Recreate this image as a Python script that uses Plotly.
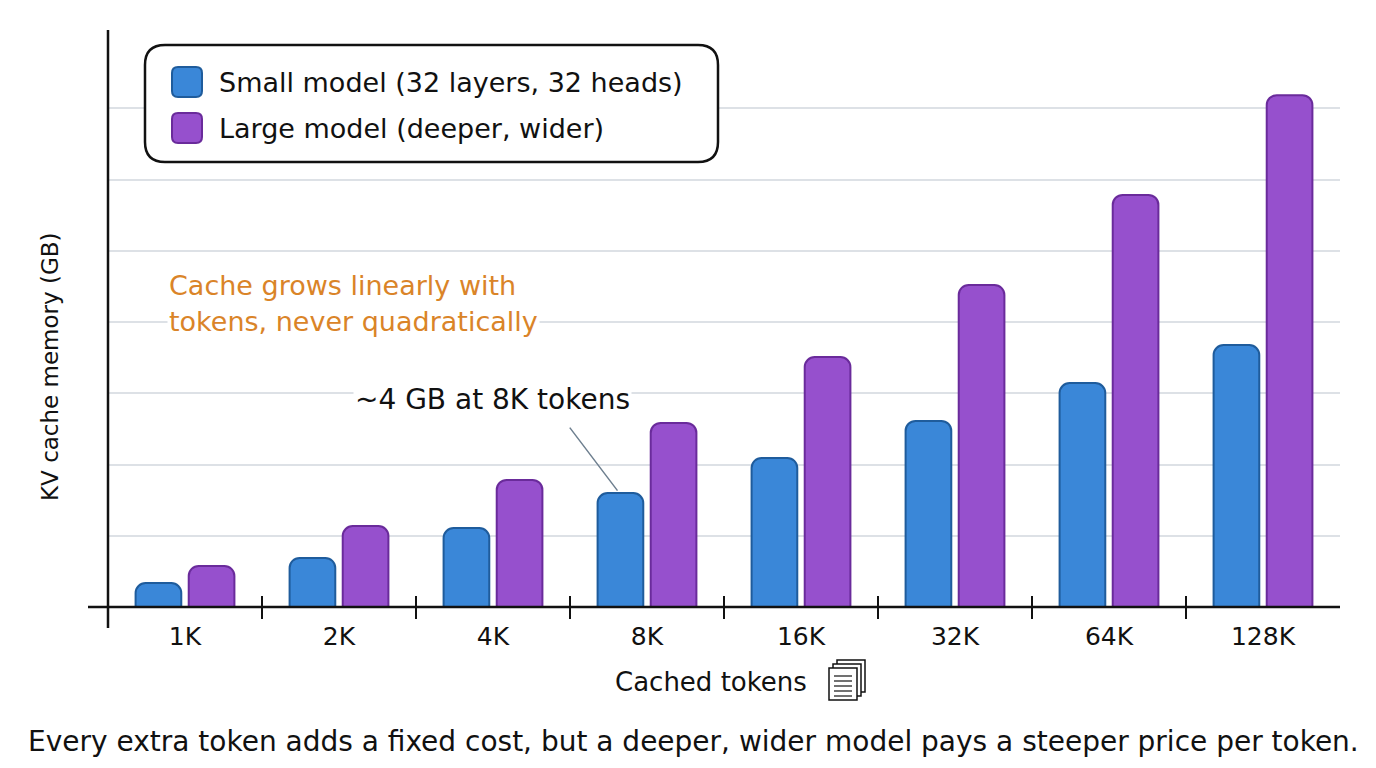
import plotly.graph_objects as go

# data (GB)
tokens = ["1K", "2K", "4K", "8K", "16K", "32K", "64K", "128K"]
small_gb = [0.84, 1.72, 2.77, 4.0, 5.23, 6.53, 7.86, 9.19]
large_gb = [1.44, 2.84, 4.46, 6.46, 8.77, 11.3, 14.46, 17.96]
grid_gb = [2.5, 5.0, 7.5, 10.0, 12.5, 15.0, 17.5]
series_names = ["Small model (32 layers, 32 heads)", "Large model (deeper, wider)"]
note_lines = ["Cache grows linearly with", "tokens, never quadratically"]

FONT = "DejaVu Sans"
INK = "#111111"
BLUE, BLUE_EDGE = "#3A87D8", "#1F5C9C"
PURPLE, PURPLE_EDGE = "#9650CD", "#6A2B9B"
ORANGE = "#DA8428"

# the page body has an 8px margin, so the figure is made 16px smaller
OFF = 8
FIG_W, FIG_H = 1376 - 2 * OFF, 768 - 2 * OFF

# plot area in page pixels
L, R, T, B = 108, 1340, 30, 607
W, H = R - L, B - T


def px(x):
    return (x - L) / W


def py(y):
    return (B - y) / H


def rounded(x0, y0, x1, y1, r):
    # rounded rectangle path, given in page pixels, returned in paper coords
    pts = [
        ("M", x0 + r, y0), ("L", x1 - r, y0), ("Q", x1, y0, x1, y0 + r),
        ("L", x1, y1 - r), ("Q", x1, y1, x1 - r, y1), ("L", x0 + r, y1),
        ("Q", x0, y1, x0, y1 - r), ("L", x0, y0 + r), ("Q", x0, y0, x0 + r, y0),
    ]
    out = []
    for p in pts:
        cmd, nums = p[0], p[1:]
        coords = []
        for i in range(0, len(nums), 2):
            coords.append(f"{px(nums[i]):.5f},{py(nums[i + 1]):.5f}")
        out.append(cmd + " ".join(coords))
    return " ".join(out) + " Z"


def text_at(x, y, text, size, color=INK, xanchor="center", **kw):
    return dict(xref="paper", yref="paper", x=px(x), y=py(y), text=text, showarrow=False,
                xanchor=xanchor, yanchor="middle", font=dict(size=size, color=color, family=FONT), **kw)


fig = go.Figure()
fig.add_trace(go.Bar(x=tokens, y=small_gb, name=series_names[0],
                     marker=dict(color=BLUE, line=dict(color=BLUE_EDGE, width=2))))
fig.add_trace(go.Bar(x=tokens, y=large_gb, name=series_names[1],
                     marker=dict(color=PURPLE, line=dict(color=PURPLE_EDGE, width=2))))

shapes = []
# axis lines (extend past the origin like the sketch)
shapes.append(dict(type="line", xref="paper", yref="paper", x0=px(108), x1=px(108),
                   y0=py(30), y1=py(628), line=dict(color=INK, width=2.5)))
shapes.append(dict(type="line", xref="paper", yref="paper", x0=px(88), x1=px(1340),
                   y0=0, y1=0, line=dict(color=INK, width=2.5)))
# category separator ticks crossing the x axis
for i in range(len(tokens) - 1):
    shapes.append(dict(type="line", xref="x", yref="paper", x0=i + 0.5, x1=i + 0.5,
                       y0=py(619), y1=py(596), line=dict(color=INK, width=2)))

# legend box
shapes.append(dict(type="path", xref="paper", yref="paper", path=rounded(145, 45, 718, 162, 20),
                   line=dict(color=INK, width=2.5), fillcolor="white", layer="above"))
legend_rows = [(BLUE, BLUE_EDGE, 82), (PURPLE, PURPLE_EDGE, 128)]
annotations = []
for (fill, edge, yc), name in zip(legend_rows, series_names):
    shapes.append(dict(type="path", xref="paper", yref="paper",
                       path=rounded(172, yc - 15, 202, yc + 15, 6),
                       line=dict(color=edge, width=2), fillcolor=fill, layer="above"))
    annotations.append(text_at(217, yc, name, 27, xanchor="left"))

# little stacked-pages icon next to the x title
for dx, dy in [(8, -8), (4, -4), (0, 0)]:
    shapes.append(dict(type="rect", xref="paper", yref="paper",
                       x0=px(829 + dx), x1=px(857 + dx), y0=py(668 + dy), y1=py(700 + dy),
                       line=dict(color=INK, width=1.5), fillcolor="white"))
for k in range(5):
    yy = 676 + k * 5
    shapes.append(dict(type="line", xref="paper", yref="paper", x0=px(834), x1=px(852),
                       y0=py(yy), y1=py(yy), line=dict(color=INK, width=1.2)))

annotations += [
    text_at(50, 367, "KV cache memory (GB)", 23, textangle=-90),
    text_at(711, 682, "Cached tokens", 26),
    text_at(693, 741, "Every extra token adds a fixed cost, but a deeper, wider model pays a steeper price per token.", 28),
    text_at(492, 400, "~4 GB at 8K tokens", 28, bgcolor="white"),
    # leader line from the label down to the small-model 8K bar
    dict(x=3 - 0.18, y=small_gb[3], xref="x", yref="y", text=" ", showarrow=True,
         arrowhead=0, arrowwidth=1.5, arrowcolor="#6E7F8F", ax=-53, ay=-70, standoff=3),
]
for line, yc in zip(note_lines, [285, 321]):
    annotations.append(text_at(167, yc, line, 27, color=ORANGE, xanchor="left", bgcolor="white"))

fig.update_layout(
    width=FIG_W, height=FIG_H,
    margin=dict(l=L - OFF, r=FIG_W + OFF - R, t=T - OFF, b=FIG_H + OFF - B),
    paper_bgcolor="white", plot_bgcolor="white",
    barmode="group", bargap=0.31, bargroupgap=0.14, barcornerradius=10,
    showlegend=False,
    font=dict(family=FONT, color=INK),
    shapes=shapes, annotations=annotations,
)
fig.update_xaxes(showline=False, ticks="", showgrid=False, zeroline=False,
                 tickfont=dict(size=25, family=FONT, color=INK), ticklabelstandoff=12)
fig.update_yaxes(range=[0, H / 28.5], tickvals=grid_gb, showticklabels=False, showline=False,
                 ticks="", zeroline=False, gridcolor="#DDE1E6", gridwidth=1.5)

fig.write_html("out.html")
